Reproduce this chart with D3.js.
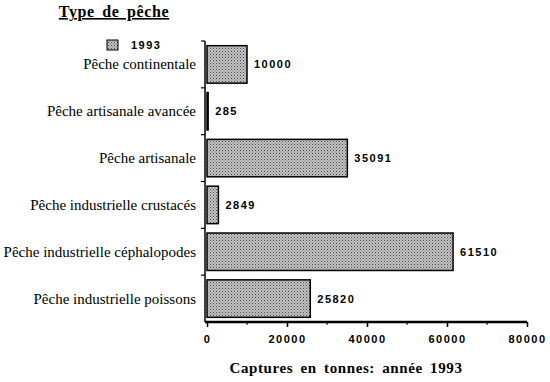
<!DOCTYPE html>
<html>
<head>
<meta charset="utf-8">
<script src="https://cdn.jsdelivr.net/npm/d3@7"></script>
<style>
  body { margin: 0; background: #fff; }
  .cat { font-family: "Liberation Serif", "DejaVu Serif", serif; font-size: 15px; }
  .val, .tick text { font-family: "Liberation Sans", Arial, sans-serif; font-size: 11px; font-weight: bold; letter-spacing: 1.5px; }
  .ttl { font-family: "Liberation Serif", serif; font-size: 15px; font-weight: bold; word-spacing: 3px; letter-spacing: 0.6px; }
</style>
</head>
<body>
<div id="chart"></div>
<script>
// chart data
const categories = ["Pêche continentale", "Pêche artisanale avancée", "Pêche artisanale",
  "Pêche industrielle crustacés", "Pêche industrielle céphalopodes", "Pêche industrielle poissons"];
const values1993 = [10000, 285, 35091, 2849, 61510, 25820];
const xTicks = [0, 20000, 40000, 60000, 80000];
const xMinorTicks = [10000, 30000, 50000, 70000];

const W = 550, H = 382;
const margin = {top: 41, left: 207, right: 23, bottom: 60};

const svg = d3.select("#chart").append("svg")
  .attr("width", W).attr("height", H);

// stippled fill
const defs = svg.append("defs");
const pat = defs.append("pattern")
  .attr("id", "dots").attr("patternUnits", "userSpaceOnUse")
  .attr("width", 3).attr("height", 3);
pat.append("rect").attr("width", 3).attr("height", 3).attr("fill", "#c4c4c4");
pat.append("rect").attr("x", 0).attr("y", 0).attr("width", 1).attr("height", 1).attr("fill", "#444");
pat.append("rect").attr("x", 1.5).attr("y", 1.5).attr("width", 1).attr("height", 1).attr("fill", "#666");

const x = d3.scaleLinear().domain([0, 80000]).range([margin.left, W - margin.right]);
const y = d3.scaleBand().domain(categories).range([margin.top, 322]).paddingInner(0.2).paddingOuter(0.1);

// bars
svg.selectAll("rect.bar").data(categories).enter().append("rect")
  .attr("class", "bar")
  .attr("x", x(0))
  .attr("y", d => y(d))
  .attr("width", (d, i) => Math.max(0.3, x(values1993[i]) - x(0)))
  .attr("height", y.bandwidth())
  .attr("fill", "url(#dots)")
  .attr("stroke", "#000").attr("stroke-width", 1.5);

// value labels
svg.selectAll("text.val").data(categories).enter().append("text")
  .attr("class", "val")
  .attr("x", (d, i) => x(values1993[i]) + 7)
  .attr("y", d => y(d) + y.bandwidth() / 2 + 4)
  .text((d, i) => values1993[i]);

// category labels
svg.selectAll("text.cat").data(categories).enter().append("text")
  .attr("class", "cat")
  .attr("x", 196)
  .attr("y", d => y(d) + y.bandwidth() / 2 + 5)
  .attr("text-anchor", "end")
  .text(d => d);

// y axis line with ticks at band boundaries
const yAx = svg.append("g");
yAx.append("line").attr("x1", 205).attr("x2", 205).attr("y1", 41).attr("y2", 322)
  .attr("stroke", "#000").attr("stroke-width", 1.5);
const step = (322 - 41) / categories.length;
d3.range(categories.length).forEach(i => {
  yAx.append("line").attr("x1", 201).attr("x2", 205)
    .attr("y1", 41 + i * step).attr("y2", 41 + i * step)
    .attr("stroke", "#000").attr("stroke-width", 1.2);
});

// x axis
const xAxis = d3.axisBottom(x).tickValues(xTicks).tickSize(5).tickPadding(8).tickFormat(d3.format("d"));
const gx = svg.append("g").attr("transform", "translate(0,322)").call(xAxis);
gx.select(".domain").attr("d", `M${x(0) - 2},0H${x(80000)}`).attr("stroke-width", 2.5);
gx.selectAll(".tick line").attr("stroke-width", 1.5);
gx.selectAll(".tick text").attr("fill", "#000");
svg.append("g").selectAll("line").data(xMinorTicks).enter().append("line")
  .attr("x1", d => x(d)).attr("x2", d => x(d))
  .attr("y1", 322).attr("y2", 325)
  .attr("stroke", "#000");

// titles
svg.append("text").attr("class", "ttl")
  .attr("x", 114).attr("y", 17).attr("text-anchor", "middle")
  .attr("text-decoration", "underline")
  .style("font-size", "16px")
  .text("Type de pêche");

svg.append("text").attr("class", "ttl")
  .attr("x", 346).attr("y", 373).attr("text-anchor", "middle")
  .text("Captures en tonnes: année 1993");

// legend
svg.append("rect").attr("x", 107).attr("y", 40).attr("width", 11).attr("height", 10)
  .attr("fill", "url(#dots)").attr("stroke", "#000");
svg.append("text").attr("class", "val").attr("x", 131).attr("y", 49).text("1993");
</script>
</body>
</html>
